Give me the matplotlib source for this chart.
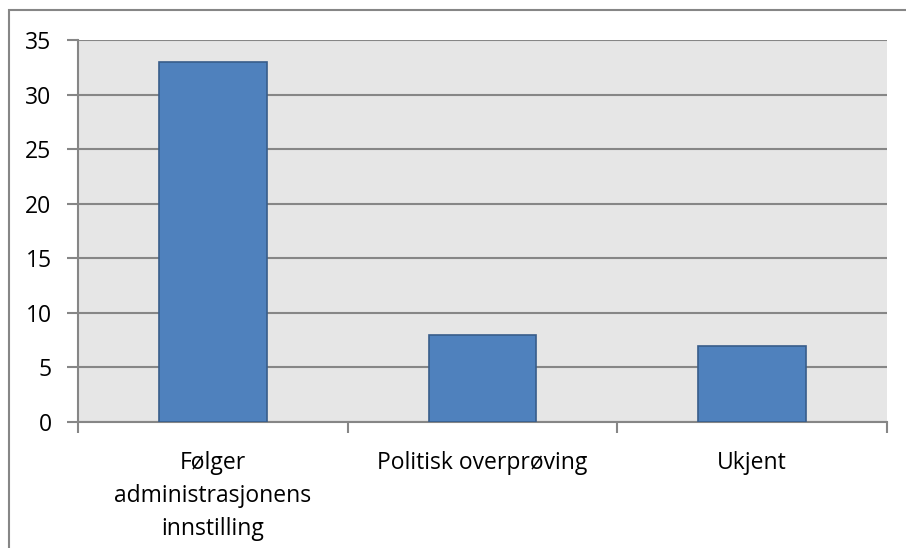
import matplotlib
matplotlib.use("Agg")
import matplotlib.pyplot as plt
from matplotlib.patches import Rectangle

categories = ["Følger\nadministrasjonens\ninnstilling", "Politisk overprøving", "Ukjent"]
values = [33, 8, 7]
yticks = [0, 5, 10, 15, 20, 25, 30, 35]

plt.rcParams['font.family'] = ['Open Sans', 'DejaVu Sans']

W, H = 906, 548
fig = plt.figure(figsize=(W/100, H/100), dpi=100)
ax = fig.add_axes([78/W, 1-422/H, (887-78)/W, (422-40)/H])
ax.set_facecolor('#E6E6E6')

x = list(range(len(categories)))
ax.bar(x, values, width=0.4, color='#4F81BD', edgecolor='#385D8A', linewidth=1.2, zorder=3)

ax.set_xlim(-0.5, len(categories)-0.5)
ax.set_ylim(0, 35)
ax.set_yticks(yticks)
ax.set_yticklabels([str(v) for v in yticks], fontsize=16.5)
ax.yaxis.grid(True, color='#868686', linewidth=1.5, zorder=1)
ax.set_axisbelow(True)

ax.set_xticks(x)
ax.set_xticklabels(categories, fontsize=16.5, linespacing=1.5, va='top')
ax.tick_params(axis='x', length=0, pad=21)
ax.set_xticks([-0.5, 0.5, 1.5, 2.5], minor=True)
ax.tick_params(axis='x', which='minor', length=8, color='#868686', width=1.5)
ax.tick_params(axis='y', length=8, color='#868686', width=1.5, pad=11)

for s in ['top', 'right']:
    ax.spines[s].set_visible(False)
ax.spines['left'].set_color('#868686')
ax.spines['left'].set_linewidth(1.5)
ax.spines['bottom'].set_color('#868686')
ax.spines['bottom'].set_linewidth(1.5)

fig.patches.append(Rectangle((9/W, -0.1), 1.2, 1-10/H+0.1, transform=fig.transFigure,
                             fill=False, edgecolor='#868686', linewidth=1.5))

fig.savefig("out.png", dpi=100)
